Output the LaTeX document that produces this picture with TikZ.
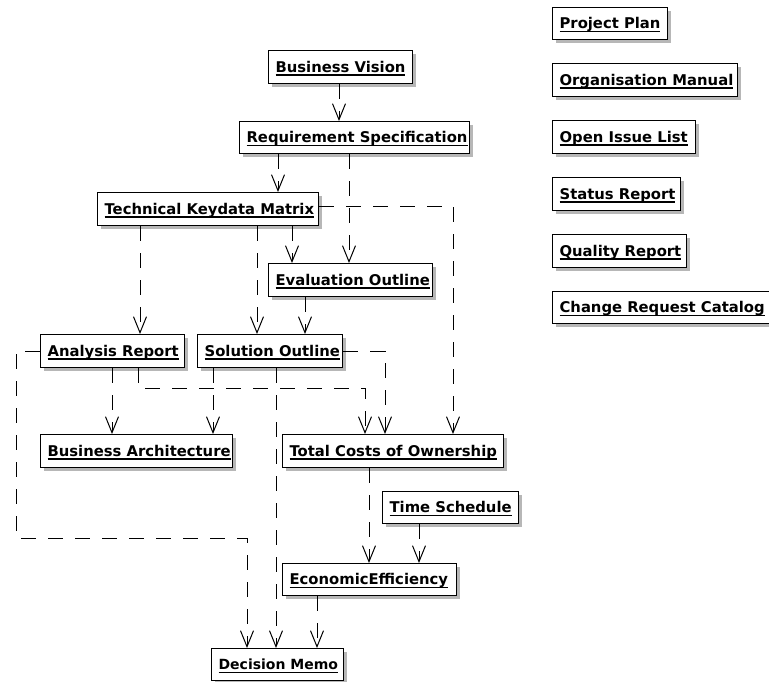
\documentclass[tikz,border=0pt]{standalone}
\usepackage{fontspec}
\setmainfont{DejaVu Sans}
\usetikzlibrary{arrows.meta,shadows}
\newcommand\bt[2]{\makebox[#1pt][l]{\setbox0\hbox{#2}\rlap{\rule[-3.5pt]{\wd0}{1.3pt}}\box0}}
\begin{document}
\begin{tikzpicture}[x=1pt,y=-1pt,
  box/.style={draw=black, line width=1.2pt, fill=white, anchor=north west,
    inner xsep=7pt, inner ysep=0pt, minimum height=33pt,
    text height=11pt, text depth=1pt,
    font=\fontsize{14.8pt}{16pt}\selectfont\bfseries,
    drop shadow={shadow xshift=3pt, shadow yshift=-3pt, fill=black!40, opacity=0.7}},
  dep/.style={draw=black, line width=1pt, dash pattern=on 15pt off 12pt,
    -{Straight Barb[length=16pt,width=13pt]}}]
\useasboundingbox (0,0) rectangle (769,681);
\fill[white] (0,0) rectangle (769,681);

% main nodes
\node[box] (bv) at (268,50) {\bt{130}{Business Vision}};
\node[box, minimum height=32pt] (rs) at (239,121) {\bt{216}{Requirement Specification}};
\node[box] (tkm) at (97,192) {\bt{207}{Technical Keydata Matrix}};
\node[box] (eo) at (268,263) {\bt{150}{Evaluation Outline}};
\node[box] (ar) at (40,334) {\bt{130}{Analysis Report}};
\node[box] (so) at (197,334) {\bt{131}{Solution Outline}};
\node[box] (ba) at (40,434) {\bt{178}{Business Architecture}};
\node[box] (tco) at (282,434) {\bt{207}{Total Costs of Ownership}};
\node[box, minimum height=32pt] (ts) at (382,491) {\bt{122}{Time Schedule}};
\node[box, minimum height=32pt] (ee) at (282,563) {\bt{160}{EconomicEfficiency}};
\node[box, minimum height=32pt, font=\fontsize{14pt}{16pt}\selectfont\bfseries] (dm) at (211,648) {\bt{118}{Decision Memo}};

% right column
\node[box, minimum height=32pt] (pp) at (552,7) {\bt{101}{Project Plan}};
\node[box] (om) at (552,63) {\bt{171}{Organisation Manual}};
\node[box] (oil) at (552,120) {\bt{129}{Open Issue List}};
\node[box] (sr) at (552,177) {\bt{114}{Status Report}};
\node[box] (qr) at (552,234) {\bt{120}{Quality Report}};
\node[box, minimum height=32pt] (crc) at (552,291) {\bt{226}{Change Request Catalog}};

% helper corner
\coordinate (c1) at (16,538);

% connectors
\draw[dep] ([xshift=71pt]bv.south west) -- ([xshift=100pt]rs.north west);
\draw[dep] ([xshift=39pt]rs.south west) -- ([xshift=181pt]tkm.north west);
\draw[dep] ([xshift=110pt]rs.south west) -- ([xshift=81pt]eo.north west);
\draw[dep] ([yshift=3pt]tkm.east) -| ([xshift=171pt]tco.north west);
\draw[dep] ([xshift=43pt]tkm.south west) -- ([xshift=100pt]ar.north west);
\draw[dep] ([xshift=160pt]tkm.south west) -- ([xshift=60pt]so.north west);
\draw[dep] ([xshift=195pt]tkm.south west) -- ([xshift=24pt]eo.north west);
\draw[dep] ([xshift=37pt]eo.south west) -- ([xshift=108pt]so.north west);
\draw[dep] (ar.west) -| (c1) -| ([xshift=36pt]dm.north west);
\draw[dep] (so.east) -| ([xshift=103pt]tco.north west);
\draw[dep] ([xshift=72pt]ar.south west) -- ([xshift=72pt]ba.north west);
\draw[dep] ([xshift=98pt]ar.south west) -- ++(0,20) -| ([xshift=83pt]tco.north west);
\draw[dep] ([xshift=16pt]so.south west) -- ([xshift=173pt]ba.north west);
\draw[dep] ([xshift=79pt]so.south west) -- ([xshift=65pt]dm.north west);
\draw[dep] ([xshift=87pt]tco.south west) -- ([xshift=87pt]ee.north west);
\draw[dep] ([xshift=37pt]ts.south west) -- ([xshift=137pt]ee.north west);
\draw[dep] ([xshift=35pt]ee.south west) -- ([xshift=106pt]dm.north west);
\end{tikzpicture}
\end{document}
